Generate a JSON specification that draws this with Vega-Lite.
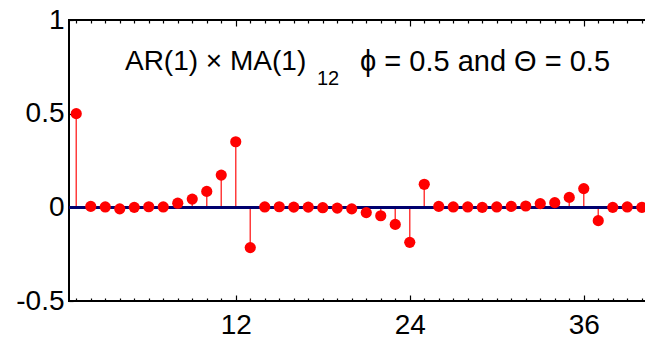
{
  "$schema": "https://vega.github.io/schema/vega-lite/v6.json",
  "width": 580,
  "height": 281,
  "autosize": "none",
  "padding": {"left": 69, "top": 20, "right": 0, "bottom": 44},
  "config": {
    "view": {"stroke": "black", "strokeWidth": 2},
    "font": "Liberation Sans",
    "axis": {"labelFont": "Liberation Sans", "labelColor": "black", "tickColor": "black", "grid": false, "domain": false, "title": null}
  },
  "data": {
    "values": [
      {"lag": 1, "pacf": 0.5},
      {"lag": 2, "pacf": 0.005},
      {"lag": 3, "pacf": 0.002},
      {"lag": 4, "pacf": -0.008},
      {"lag": 5, "pacf": 0.0},
      {"lag": 6, "pacf": 0.003},
      {"lag": 7, "pacf": 0.002},
      {"lag": 8, "pacf": 0.022},
      {"lag": 9, "pacf": 0.044},
      {"lag": 10, "pacf": 0.085},
      {"lag": 11, "pacf": 0.172},
      {"lag": 12, "pacf": 0.35},
      {"lag": 13, "pacf": -0.215},
      {"lag": 14, "pacf": 0.002},
      {"lag": 15, "pacf": 0.003},
      {"lag": 16, "pacf": 0.001},
      {"lag": 17, "pacf": 0.001},
      {"lag": 18, "pacf": -0.002},
      {"lag": 19, "pacf": -0.004},
      {"lag": 20, "pacf": -0.008},
      {"lag": 21, "pacf": -0.028},
      {"lag": 22, "pacf": -0.045},
      {"lag": 23, "pacf": -0.091},
      {"lag": 24, "pacf": -0.187},
      {"lag": 25, "pacf": 0.123},
      {"lag": 26, "pacf": 0.005},
      {"lag": 27, "pacf": 0.002},
      {"lag": 28, "pacf": 0.002},
      {"lag": 29, "pacf": 0.0},
      {"lag": 30, "pacf": 0.002},
      {"lag": 31, "pacf": 0.005},
      {"lag": 32, "pacf": 0.007},
      {"lag": 33, "pacf": 0.02},
      {"lag": 34, "pacf": 0.025},
      {"lag": 35, "pacf": 0.053},
      {"lag": 36, "pacf": 0.1},
      {"lag": 37, "pacf": -0.071},
      {"lag": 38, "pacf": 0.0},
      {"lag": 39, "pacf": 0.002},
      {"lag": 40, "pacf": 0.0}
    ]
  },
  "layer": [
    {
      "mark": {"type": "rule", "color": "#ff3c3c", "strokeWidth": 1.5},
      "encoding": {
        "x": {
          "field": "lag", "type": "quantitative",
          "scale": {"domain": [0.5, 40.5], "nice": false, "zero": false},
          "axis": {
            "orient": "bottom",
            "values": [1,2,3,4,5,6,7,8,9,10,11,12,13,14,15,16,17,18,19,20,21,22,23,24,25,26,27,28,29,30,31,32,33,34,35,36,37,38,39,40],
            "tickSize": {"condition": {"test": "datum.value % 12 === 0", "value": -6}, "value": -3},
            "tickWidth": 1.2,
            "labelExpr": "datum.value % 12 === 0 ? datum.label : ''",
            "labelOverlap": false,
            "labelFontSize": 28,
            "labelPadding": 16,
            "labelFlush": false
          }
        },
        "y": {
          "field": "pacf", "type": "quantitative",
          "scale": {"domain": [-0.5, 1], "nice": false, "zero": false},
          "axis": {
            "orient": "left",
            "values": [-0.5, 0, 0.5, 1],
            "tickSize": -4,
            "tickWidth": 1.2,
            "labelExpr": "datum.value < 0 ? '-0.5' : datum.value === 0 ? '0' : datum.value === 1 ? '1' : '0.5'",
            "labelFontSize": 28,
            "labelPadding": 9,
            "labelFlush": false,
            "labelOverlap": false
          }
        },
        "y2": {"datum": 0}
      }
    },
    {
      "mark": {"type": "rule", "color": "#00006e", "strokeWidth": 2.5},
      "encoding": {
        "y": {"datum": 0, "type": "quantitative", "axis": null}
      }
    },
    {
      "mark": {"type": "circle", "color": "#ff0000", "size": 125, "opacity": 1},
      "encoding": {
        "x": {
          "field": "lag", "type": "quantitative",
          "axis": {
            "orient": "top",
            "values": [1,2,3,4,5,6,7,8,9,10,11,12,13,14,15,16,17,18,19,20,21,22,23,24,25,26,27,28,29,30,31,32,33,34,35,36,37,38,39,40],
            "tickSize": {"condition": {"test": "datum.value % 12 === 0", "value": -6}, "value": -3},
            "tickWidth": 1.2,
            "labels": false
          }
        },
        "y": {
          "field": "pacf", "type": "quantitative",
          "axis": {
            "orient": "right",
            "values": [-0.5, 0, 0.5, 1],
            "tickSize": -4,
            "tickWidth": 1.2,
            "labels": false
          }
        }
      }
    },
    {
      "data": {"values": [{}]},
      "mark": {"type": "text", "text": "AR(1) × MA(1)", "align": "left", "baseline": "alphabetic", "fontSize": 28, "color": "black"},
      "encoding": {
        "x": {"datum": 4.36, "type": "quantitative", "axis": null},
        "y": {"datum": 0.735, "type": "quantitative", "axis": null}
      }
    },
    {
      "data": {"values": [{}]},
      "mark": {"type": "text", "text": "12", "align": "left", "baseline": "alphabetic", "fontSize": 20, "color": "black"},
      "encoding": {
        "x": {"datum": 17.6, "type": "quantitative", "axis": null},
        "y": {"datum": 0.655, "type": "quantitative", "axis": null}
      }
    },
    {
      "data": {"values": [{}]},
      "mark": {"type": "text", "text": "ϕ = 0.5 and Θ = 0.5", "align": "left", "baseline": "alphabetic", "fontSize": 29, "color": "black"},
      "encoding": {
        "x": {"datum": 20.57, "type": "quantitative", "axis": null},
        "y": {"datum": 0.73, "type": "quantitative", "axis": null}
      }
    }
  ]
}
